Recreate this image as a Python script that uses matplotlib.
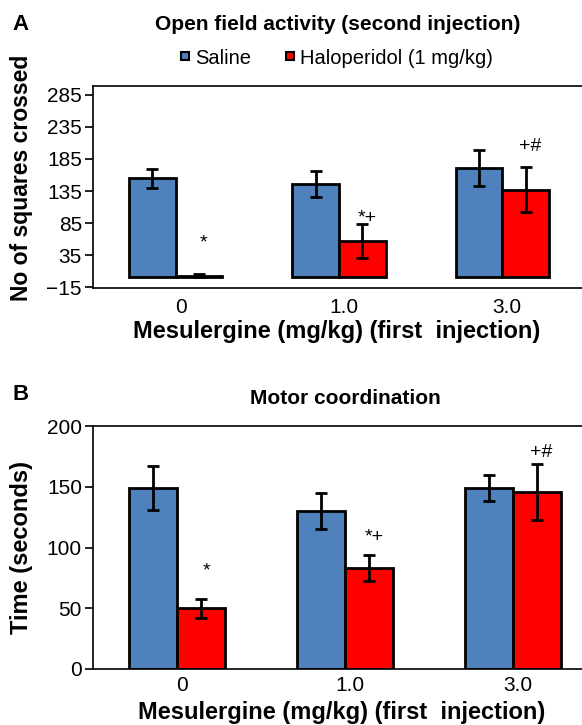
import matplotlib.pyplot as plt
from matplotlib.lines import Line2D
import numpy as np

plt.rcParams['font.family'] = ['Liberation Sans', 'DejaVu Sans']

# Data
doses = ['0', '1.0', '3.0']
groups = ['Saline', 'Haloperidol (1 mg/kg)']

open_saline = [155, 146, 171]
open_saline_err = [15, 20, 28]
open_halo = [3, 57, 137]
open_halo_err = [2, 27, 35]
open_marks = ['*', '*+', '+#']
open_mark_y = [54, 92, 204]

motor_saline = [149, 130, 149]
motor_saline_err = [18, 15, 11]
motor_halo = [50, 83, 146]
motor_halo_err = [8, 10.5, 23]
motor_marks = ['*', '*+', '+#']
motor_mark_y = [81, 108, 178]

blue = '#4f81bd'
red = '#ff0000'
width = 0.285

W, H = 582, 725
fig = plt.figure(figsize=(W / 100, H / 100), dpi=100)


def panel(rect, sal, sal_err, hal, hal_err, marks, mark_y, ylim, yticks,
          xlim, xpad):
    ax = fig.add_axes(rect)
    x = np.arange(len(doses))
    ax.bar(x - width / 2, sal, width, color=blue, edgecolor='black',
           linewidth=2.0, zorder=2)
    ax.bar(x + width / 2, hal, width, color=red, edgecolor='black',
           linewidth=2.0, zorder=2)
    ax.errorbar(x - width / 2, sal, yerr=sal_err, fmt='none', ecolor='black',
                elinewidth=2.0, capsize=4, capthick=2.0, zorder=3)
    ax.errorbar(x + width / 2, hal, yerr=hal_err, fmt='none', ecolor='black',
                elinewidth=2.0, capsize=4, capthick=2.0, zorder=3)
    for xi, m, my in zip(x, marks, mark_y):
        ax.text(xi + width / 2 + 0.03, my, m, ha='center', va='center',
                fontsize=14)
    ax.set_xlim(*xlim)
    ax.set_ylim(*ylim)
    ax.set_yticks(yticks)
    ax.set_xticks(x + 0.03)
    ax.set_xticklabels(doses)
    ax.tick_params(axis='y', direction='out', length=6, width=1.2,
                   labelsize=15, pad=2)
    ax.tick_params(axis='x', length=0, labelsize=15, pad=xpad)
    ax.spines['right'].set_visible(False)
    for s in ['left', 'top', 'bottom']:
        ax.spines[s].set_linewidth(1.2)
    return ax


# Panel A
panel([93 / W, 1 - 288 / H, 1 - 93 / W, 202 / H],
      open_saline, open_saline_err, open_halo, open_halo_err,
      open_marks, open_mark_y, (-16.5, 299), np.arange(-15, 286, 50),
      (-0.506, 2.488), 7)

# Panel B
panel([93 / W, 1 - 669 / H, 1 - 93 / W, 243 / H],
      motor_saline, motor_saline_err, motor_halo, motor_halo_err,
      motor_marks, motor_mark_y, (0, 200), np.arange(0, 201, 50),
      (-0.501, 2.413), 5)

# Titles and labels
fig.text(21 / W, 1 - 25 / H, 'A', fontsize=16, fontweight='bold',
         ha='center', va='center')
fig.text(21 / W, 1 - 394 / H, 'B', fontsize=16, fontweight='bold',
         ha='center', va='center')
fig.text(338 / W, 1 - 24 / H, 'Open field activity (second injection)',
         fontsize=15, fontweight='bold', ha='center', va='center')
fig.text(345 / W, 1 - 399 / H, 'Motor coordination',
         fontsize=15, fontweight='bold', ha='center', va='center')
fig.text(337 / W, 1 - 331 / H, 'Mesulergine (mg/kg) (first  injection)',
         fontsize=17, fontweight='bold', ha='center', va='center')
fig.text(342 / W, 1 - 712 / H, 'Mesulergine (mg/kg) (first  injection)',
         fontsize=17, fontweight='bold', ha='center', va='center')
fig.text(22 / W, 1 - 178 / H, 'No of squares crossed', rotation=90,
         fontsize=16.5, fontweight='bold', ha='center', va='center')
fig.text(22 / W, 1 - 548 / H, 'Time (seconds)', rotation=90,
         fontsize=17, fontweight='bold', ha='center', va='center')

handles = [Line2D([], [], marker='s', linestyle='none', markersize=6,
                  markerfacecolor=c, markeredgecolor='black',
                  markeredgewidth=1.5) for c in [blue, red]]
fig.legend(handles, groups, loc='center', ncol=2, frameon=False,
           bbox_to_anchor=(336 / W, 1 - 58 / H), fontsize=14.5,
           handlelength=0.6, handletextpad=0.2, columnspacing=1.6)

fig.savefig('out.png', dpi=100)
